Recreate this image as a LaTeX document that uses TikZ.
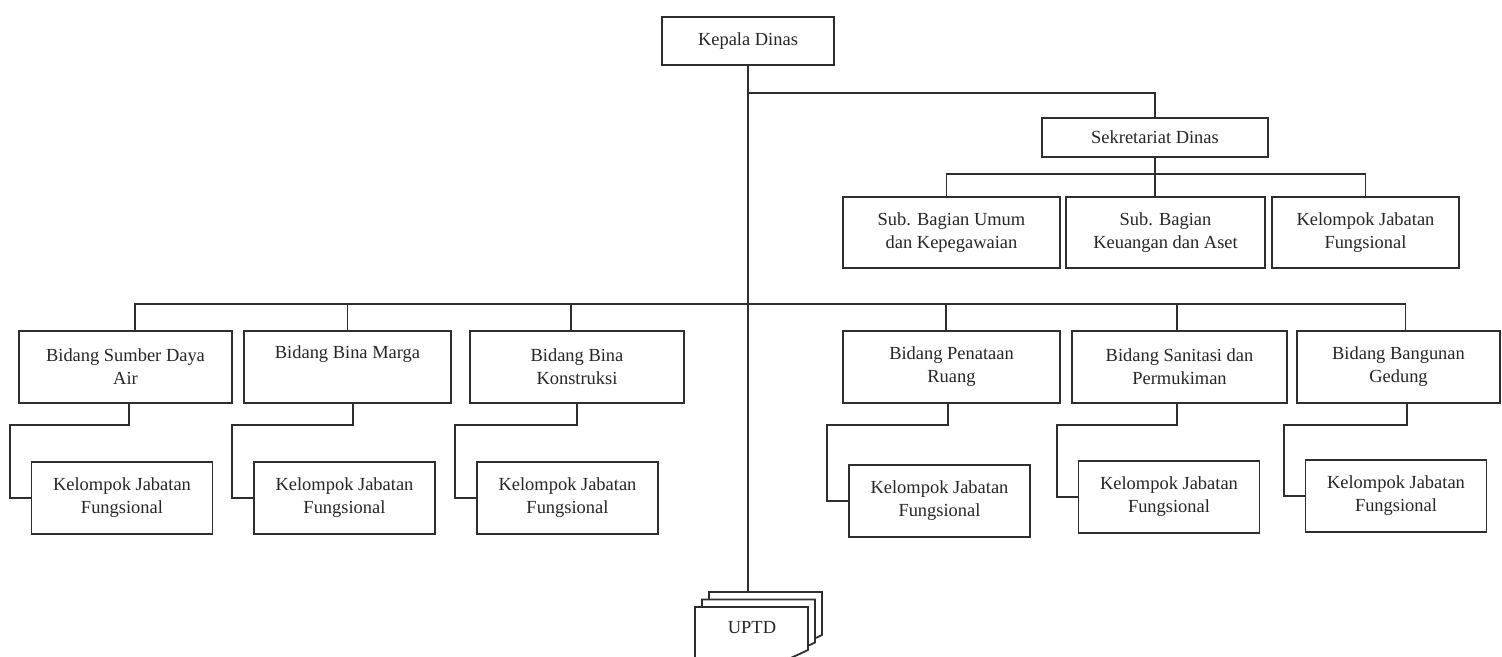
\documentclass[tikz,border=0pt]{standalone}
\usepackage{fontspec}
\setmainfont{Liberation Serif}
\usetikzlibrary{positioning}

\begin{document}
\begin{tikzpicture}[
  line/.style={draw=black!82, line width=1pt},
  unit/.style={line, fill=white, align=center, inner sep=0pt, text=black!85, font=\fontsize{10.5}{13}\selectfont},
  bidang/.style={unit, minimum height=1.44cm},
  kelompok/.style={unit, minimum width=3.62cm, minimum height=1.44cm},
  sheet/.style={line, fill=white}
]
\useasboundingbox (0,0) rectangle (30.04,13.14);
\clip (0,0) rectangle (30.04,13.14);

\node[unit, minimum width=3.44cm, minimum height=0.96cm] (kepala) at (14.96,12.32) {Kepala Dinas};
\node[unit, minimum width=4.52cm, minimum height=0.78cm] (sekretariat) at (23.10,10.39) {Sekretariat Dinas};

\node[unit, minimum width=4.34cm, minimum height=1.42cm] (umum) at (19.03,8.49) {Sub. Bagian Umum\\dan Kepegawaian};
\node[unit, minimum width=3.98cm, minimum height=1.42cm] (keuangan) at (23.31,8.49) {Sub. Bagian\\Keuangan dan Aset};
\node[unit, minimum width=3.74cm, minimum height=1.42cm] (kfsek) at (27.31,8.49) {Kelompok Jabatan\\Fungsional};

\node[bidang, minimum width=4.26cm] (sda) at (2.51,5.80) {Bidang Sumber Daya\\Air};
\node[bidang, minimum width=4.14cm] (marga) at (6.95,5.80) {Bidang Bina Marga\\\strut};
\node[bidang, minimum width=4.28cm] (konstruksi) at (11.54,5.80) {Bidang Bina\\Konstruksi};
\node[bidang, minimum width=4.34cm] (penataan) at (19.03,5.80) {Bidang Penataan\\Ruang};
\node[bidang, minimum width=4.30cm] (sanitasi) at (23.59,5.80) {Bidang Sanitasi dan\\Permukiman};
\node[bidang, minimum width=4.06cm] (bangunan) at (27.97,5.80) {Bidang Bangunan\\Gedung};

\node[kelompok] (kf1) at (2.44,3.18) {Kelompok Jabatan\\Fungsional};
\node[kelompok] (kf2) at (6.89,3.18) {Kelompok Jabatan\\Fungsional};
\node[kelompok] (kf3) at (11.35,3.18) {Kelompok Jabatan\\Fungsional};
\node[kelompok] (kf4) at (18.79,3.12) {Kelompok Jabatan\\Fungsional};
\node[kelompok] (kf5) at (23.38,3.20) {Kelompok Jabatan\\Fungsional};
\node[kelompok] (kf6) at (27.92,3.22) {Kelompok Jabatan\\Fungsional};

\foreach \i in {2,1,0} {
  \begin{scope}[shift={(\i*0.14,\i*0.15)}]
    \draw[sheet] (13.90,1.00) -- (16.16,1.00) -- (16.16,0.14)
      .. controls (15.03,-0.41) and (14.69,-0.31) .. (13.90,-0.06) -- cycle;
  \end{scope}
}
\node[font=\fontsize{10.5}{13}\selectfont, text=black!85] (uptd) at (15.04,0.58) {UPTD};
\coordinate (uptdtop) at (14.96,1.30);

\coordinate (sekbus) at (14.96,11.28);
\coordinate (bus) at (14.96,7.06);

\draw[line] (kepala.south) -- (uptdtop);
\draw[line] (sekbus) -| (sekretariat.north);
\draw[line] (sekretariat.south) -- (sekretariat.south |- keuangan.north);
\draw[line] ([xshift=-0.1cm]umum.north) -- ++(0,0.44) -| (kfsek.north);

\draw[line] ([xshift=0.19cm]sda.north) |- (bus) -| ([xshift=0.14cm]bangunan.north);
\foreach \b/\s in {marga/0, konstruksi/-0.12, penataan/-0.11, sanitasi/-0.05}
  \draw[line] ([xshift=\s cm]\b.north) -- ([xshift=\s cm]\b.north |- bus);

\foreach \b/\k/\s in {sda/kf1/0.07, marga/kf2/0.11, konstruksi/kf3/0, penataan/kf4/-0.07, sanitasi/kf5/-0.05, bangunan/kf6/0.17}
  \draw[line] ([xshift=\s cm]\b.south) -- ++(0,-0.42) -| ([xshift=-0.42cm]\k.west) -- (\k.west);

\end{tikzpicture}
\end{document}
